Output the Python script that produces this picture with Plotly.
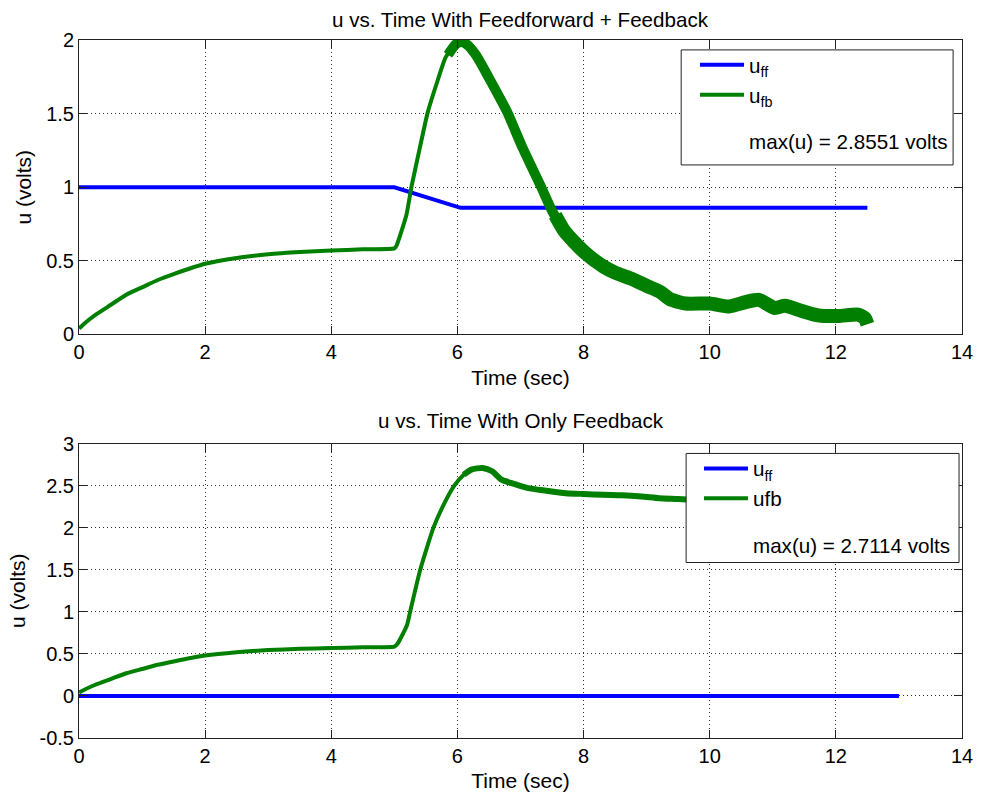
import plotly.graph_objects as go

# ---------------- data ----------------
# Top panel: feedforward + feedback
t_ff_top = [0.0, 5.0, 6.05, 12.5]
u_ff_top = [1.0, 1.0, 0.86, 0.86]

# feedback before and during the step (clean trace)
t_fb_top_a = [0.0, 0.1, 0.25, 0.5, 0.75, 1.0, 1.25, 1.5, 2.0, 2.5, 3.0, 3.5, 4.0, 4.5, 5.0,
              5.03, 5.19, 5.27, 5.40, 5.53, 5.69, 5.81, 5.92]
u_fb_top_a = [0.04, 0.08, 0.13, 0.20, 0.27, 0.32, 0.37, 0.41, 0.48, 0.52, 0.545, 0.56, 0.57, 0.578, 0.585,
              0.60, 0.81, 1.00, 1.26, 1.51, 1.73, 1.88, 1.95]
# feedback after the step (noisy, drawn as a heavier band)
t_fb_top_b = [5.85, 5.97, 6.05, 6.15, 6.29, 6.49, 6.79, 7.02, 7.33, 7.50, 7.70]
u_fb_top_b = [1.90, 1.97, 1.99, 1.97, 1.90, 1.75, 1.51, 1.28, 1.00, 0.84, 0.70]
t_fb_top_c = [7.55, 7.70, 8.01, 8.32, 8.50, 8.75, 9.00, 9.21, 9.37, 9.62, 10.0, 10.31, 10.57, 10.78,
              11.03, 11.19, 11.46, 11.72, 12.04, 12.35, 12.46, 12.50]
u_fb_top_c = [0.81, 0.70, 0.56, 0.46, 0.42, 0.38, 0.33, 0.29, 0.24, 0.21, 0.21, 0.19, 0.22, 0.235,
              0.18, 0.195, 0.16, 0.13, 0.125, 0.135, 0.11, 0.07]

# Bottom panel: feedback only
t_ff_bot = [0.0, 13.0]
u_ff_bot = [0.0, 0.0]

t_fb_bot_a = [0.0, 0.1, 0.25, 0.5, 0.75, 1.0, 1.25, 1.5, 2.0, 2.5, 3.0, 3.5, 4.0, 4.5, 5.0,
              5.05, 5.2, 5.25, 5.41, 5.62, 5.8, 5.95, 6.1, 6.22]
u_fb_bot_a = [0.04, 0.08, 0.13, 0.20, 0.27, 0.32, 0.37, 0.41, 0.48, 0.52, 0.545, 0.56, 0.57, 0.578, 0.585,
              0.62, 0.84, 1.00, 1.50, 2.00, 2.30, 2.50, 2.63, 2.69]
t_fb_bot_b = [6.1, 6.22, 6.4, 6.55, 6.7, 6.9, 7.12, 7.4, 7.72, 8.0, 8.32, 8.6, 8.92, 9.2, 9.5,
              10.0, 11.0, 12.0, 12.95]
u_fb_bot_b = [2.63, 2.69, 2.71, 2.67, 2.57, 2.52, 2.47, 2.44, 2.41, 2.40, 2.39, 2.385, 2.37, 2.35, 2.34,
              2.32, 2.30, 2.28, 2.27]

x_ticks = [0, 2, 4, 6, 8, 10, 12, 14]
x_ticktext = ["0", "2", "4", "6", "8", "10", "12", "14"]
y_top_ticks = [0, 0.5, 1, 1.5, 2]
y_top_ticktext = ["0", "0.5", "1", "1.5", "2"]
y_bot_ticks = [-0.5, 0, 0.5, 1, 1.5, 2, 2.5, 3]
y_bot_ticktext = ["-0.5", "0", "0.5", "1", "1.5", "2", "2.5", "3"]

max_top = "max(u) = 2.8551 volts"
max_bot = "max(u) = 2.7114 volts"

BLUE = "#0000FF"
GREEN = "#007F00"
FONT = "Liberation Sans, Arial, sans-serif"

# plot-area geometry in pixels, used to place legend frames in paper coords
L, R, T, B = 79, 972, 40, 744


def px_x(p):
    return (p - L) / (R - L)


def px_y(p):
    return (B - p) / (B - T)


fig = go.Figure()

# ---- top panel traces ----
fig.add_trace(go.Scatter(x=t_ff_top, y=u_ff_top, mode="lines", name="u<sub>ff</sub>",
                         line=dict(color=BLUE, width=4), xaxis="x", yaxis="y",
                         legend="legend", legendgroup="top"))
fig.add_trace(go.Scatter(x=t_fb_top_a, y=u_fb_top_a, mode="lines", name="u<sub>fb</sub>",
                         line=dict(color=GREEN, width=4, shape="spline", smoothing=0.5),
                         xaxis="x", yaxis="y", legend="legend", legendgroup="top"))
fig.add_trace(go.Scatter(x=t_fb_top_b, y=u_fb_top_b, mode="lines", showlegend=False,
                         line=dict(color=GREEN, width=10, shape="spline", smoothing=0.6),
                         xaxis="x", yaxis="y", legend="legend", legendgroup="top"))
fig.add_trace(go.Scatter(x=t_fb_top_c, y=u_fb_top_c, mode="lines", showlegend=False,
                         line=dict(color=GREEN, width=14, shape="spline", smoothing=0.6),
                         xaxis="x", yaxis="y", legend="legend", legendgroup="top"))
fig.add_trace(go.Scatter(x=[None], y=[None], mode="lines", name=max_top,
                         line=dict(color="rgba(0,0,0,0)", width=0), xaxis="x", yaxis="y",
                         legend="legend", legendgroup="topmax"))

# ---- bottom panel traces ----
fig.add_trace(go.Scatter(x=t_ff_bot, y=u_ff_bot, mode="lines", name="u<sub>ff</sub>",
                         line=dict(color=BLUE, width=4), xaxis="x2", yaxis="y2",
                         legend="legend2", legendgroup="bot"))
fig.add_trace(go.Scatter(x=t_fb_bot_a, y=u_fb_bot_a, mode="lines", name="ufb",
                         line=dict(color=GREEN, width=4, shape="spline", smoothing=0.5),
                         xaxis="x2", yaxis="y2", legend="legend2", legendgroup="bot"))
fig.add_trace(go.Scatter(x=t_fb_bot_b, y=u_fb_bot_b, mode="lines", showlegend=False,
                         line=dict(color=GREEN, width=6, shape="spline", smoothing=0.6),
                         xaxis="x2", yaxis="y2", legend="legend2", legendgroup="bot"))
fig.add_trace(go.Scatter(x=[None], y=[None], mode="lines", name=max_bot,
                         line=dict(color="rgba(0,0,0,0)", width=0), xaxis="x2", yaxis="y2",
                         legend="legend2", legendgroup="botmax"))

axis_common = dict(
    showline=True, linecolor="#222", linewidth=1, mirror="allticks",
    ticks="inside", ticklen=8, tickcolor="#222", tickwidth=1,
    showgrid=True, gridcolor="#333", griddash="1px,3px", gridwidth=1,
    zeroline=False, tickfont=dict(family=FONT, size=20, color="black"),
)
title_font = dict(family=FONT, size=21, color="black")

legend_common = dict(
    xanchor="left", yanchor="top", bgcolor="rgba(0,0,0,0)", borderwidth=0,
    font=dict(family=FONT, size=20.6, color="black"), traceorder="grouped",
    tracegroupgap=17, itemwidth=44,
)

# white legend frames (drawn above the traces, below the legend text)
frame = dict(type="rect", xref="paper", yref="paper", layer="above",
             fillcolor="white", line=dict(color="#222", width=1))

fig.update_layout(
    width=985, height=801,
    margin=dict(l=L, r=985 - R, t=T, b=801 - B),
    paper_bgcolor="white", plot_bgcolor="white",
    font=dict(family=FONT, size=20, color="black"),
    xaxis=dict(domain=[0, 1], range=[0, 14], anchor="y", tickvals=x_ticks, ticktext=x_ticktext,
               title=dict(text="Time (sec)", standoff=7, font=title_font), **axis_common),
    yaxis=dict(domain=[px_y(337), 1], range=[0, 2], anchor="x", tickvals=y_top_ticks,
               ticktext=y_top_ticktext,
               title=dict(text="u (volts)", standoff=8, font=title_font), **axis_common),
    xaxis2=dict(domain=[0, 1], range=[0, 14], anchor="y2", tickvals=x_ticks, ticktext=x_ticktext,
                title=dict(text="Time (sec)", standoff=7, font=title_font), **axis_common),
    yaxis2=dict(domain=[0, px_y(447)], range=[-0.5, 3], anchor="x2", tickvals=y_bot_ticks,
                ticktext=y_bot_ticktext,
                title=dict(text="u (volts)", standoff=8, font=title_font), **axis_common),
    legend=dict(x=px_x(702), y=px_y(45), **legend_common),
    legend2=dict(x=px_x(706), y=px_y(452), **legend_common),
    shapes=[
        dict(x0=px_x(688), x1=px_x(963), y0=px_y(166), y1=px_y(50), **frame),
        dict(x0=px_x(693), x1=px_x(969), y0=px_y(567), y1=px_y(457), **frame),
    ],
    annotations=[
        dict(text="u vs. Time With Feedforward + Feedback", x=0.5, y=px_y(19),
             xref="paper", yref="paper", xanchor="center", yanchor="middle",
             showarrow=False, font=dict(family=FONT, size=20.6)),
        dict(text="u vs. Time With Only Feedback", x=0.5, y=px_y(424),
             xref="paper", yref="paper", xanchor="center", yanchor="middle",
             showarrow=False, font=dict(family=FONT, size=20.6)),
    ],
)

fig.write_html("out.html")
